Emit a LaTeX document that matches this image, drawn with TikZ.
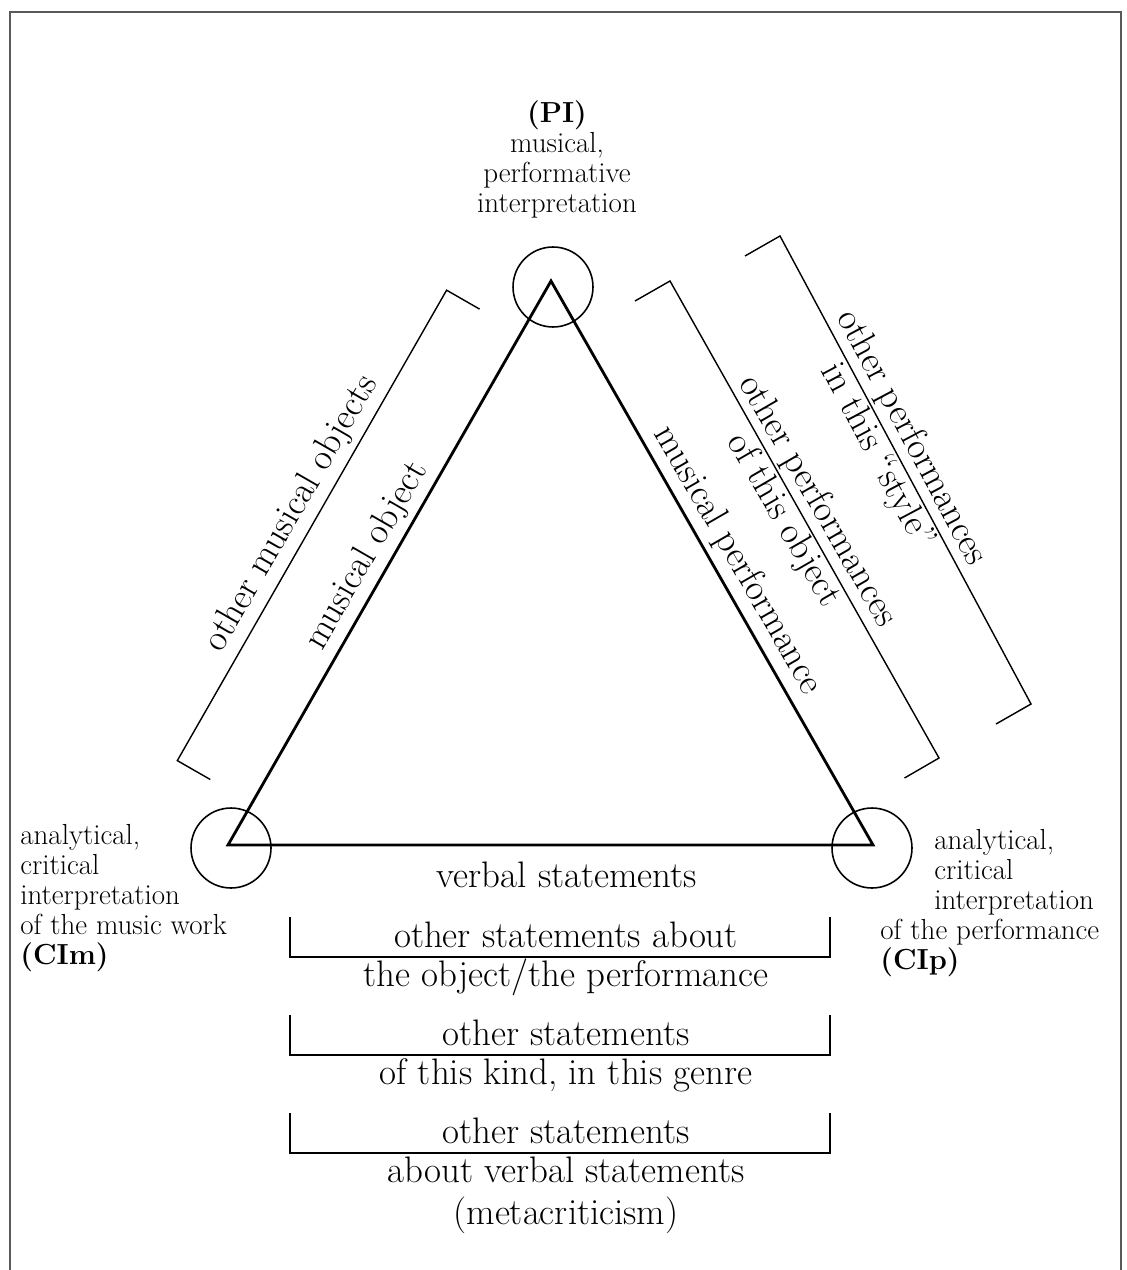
\documentclass[tikz,border=0pt]{standalone}
\usepackage{fontspec}
\usepackage{tikz}
\usetikzlibrary{positioning,calc}

\begin{document}
\begin{tikzpicture}[
        x=0.02cm, y=-0.02cm,
        % Style for the open frame
        frame/.style={
            draw=black!65,
            line width=1.2pt
        },
        % Style for the triangle
        side/.style={
            draw=black,
            line width=1.6pt,
            line join=miter
        },
        % Style for the circles at the corners
        corner/.style={
            circle,
            draw=black,
            line width=0.9pt,
            minimum size=1.6cm,
            inner sep=0pt
        },
        % Style for the brackets
        bracket/.style={
            draw=black,
            line width=0.8pt
        },
        % Style for the big labels
        lbl/.style={
            font=\fontsize{21}{25}\selectfont,
            inner sep=0pt
        },
        % Style for the corner labels
        vlbl/.style={
            font=\fontsize{16.5}{17.1}\selectfont,
            inner sep=0pt,
            align=left
        }
    ]
        \useasboundingbox (0,0) rectangle (1126,1270);

        % --- FRAME ---
        \draw[frame] (10,1270) |- (1121,12) -- (1121,1270);

        % --- TRIANGLE AND CIRCLES ---
        \coordinate (pi) at (551,281);
        \coordinate (cim) at (228,845);
        \coordinate (cip) at (873,845);

        \node[corner] (cpi) at (553,287) {};
        \node[corner] (ccim) at (231,848) {};
        \node[corner] (ccip) at (872,848) {};

        \draw[side] (pi) -- (cim) -- (cip) -- cycle;

        % --- CORNER LABELS ---
        \node[vlbl, align=center, anchor=south] (lpi) at (557,219)
            {\textbf{(PI)}\\ musical,\\ performative\\ interpretation};
        \node[vlbl, anchor=north west] (lcim) at (20,824)
            {analytical,\\ critical\\ interpretation\\ of the music work\\ \textbf{(CIm)}};
        \node[vlbl, anchor=north west] (lcip) at (880,829)
            {\hspace*{30.7pt}analytical,\\ \hspace*{30.7pt}critical\\ \hspace*{30.7pt}interpretation\\ of the performance\\ \textbf{(CIp)}};

        % --- LEFT SIDE ---
        \draw[bracket] (210.3,779.5) -- (177.3,760.6) -- (446.6,290.2) -- (479.6,309.1);
        \node[lbl, rotate=60, anchor=base] (mobj) at (374.8,560.2) {musical object};
        \node[lbl, rotate=60, anchor=base] (omobj) at (299.7,518.4) {other musical objects};

        % --- RIGHT SIDE ---
        \draw[bracket] (635,301) -- (670,281) -- (939,758) -- (904.5,778);
        \draw[bracket] (745,256) -- (780,236) -- (1031,704) -- (996,724);
        \node[lbl, rotate=-60, anchor=base] (mperf) at (729.5,564.8) {musical performance};
        \node[lbl, rotate=-60, anchor=base] (operf) at (809.4,505.8) {other performances};
        \node[lbl, rotate=-60, anchor=north] (tobj) at (798.1,512.2) {of this object};
        \node[lbl, rotate=-62, anchor=base] (ostyle) at (903.1,442.3) {other performances};
        \node[lbl, rotate=-62, anchor=north] (style) at (891.6,448.4) {in this ``style''};

        % --- BOTTOM ---
        \node[lbl, anchor=base] (verbal) at (567,887) {verbal statements};
        \foreach \y in {957,1055,1153}
            \draw[bracket] (290,\y-40) |- (830,\y) -- (830,\y-40);

        \node[lbl, anchor=base] (osa) at (566,947) {other statements about};
        \node[lbl, anchor=base] (objperf) at (566,986) {the object/the performance};
        \node[lbl, anchor=base] (os1) at (566,1045) {other statements};
        \node[lbl, anchor=base] (kind) at (566,1084) {of this kind, in this genre};
        \node[lbl, anchor=base] (os2) at (566,1143) {other statements};
        \node[lbl, anchor=base] (about) at (566,1182) {about verbal statements};
        \node[lbl, anchor=base] (meta) at (566,1224) {(metacriticism)};

    \end{tikzpicture}
\end{document}
